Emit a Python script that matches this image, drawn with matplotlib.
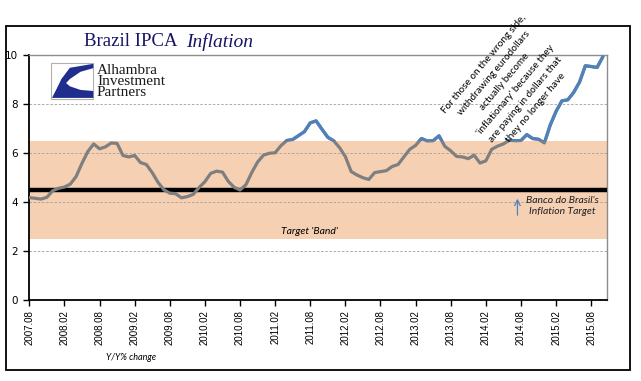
import matplotlib
matplotlib.use("Agg")
import matplotlib.pyplot as plt
from matplotlib.patches import Rectangle, Polygon
import numpy as np

# 12-month IPCA, 2007.08 .. 2015.10
ipca = [4.18, 4.15, 4.12, 4.19, 4.46,
        4.56, 4.61, 4.73, 5.04, 5.58, 6.06, 6.37, 6.17, 6.25, 6.41, 6.39, 5.90,
        5.84, 5.90, 5.61, 5.53, 5.20, 4.80, 4.50, 4.36, 4.34, 4.17, 4.22, 4.31,
        4.59, 4.83, 5.17, 5.26, 5.22, 4.84, 4.60, 4.49, 4.70, 5.20, 5.63, 5.91,
        5.99, 6.01, 6.30, 6.51, 6.55, 6.71, 6.87, 7.23, 7.31, 6.97, 6.64, 6.50,
        6.22, 5.85, 5.24, 5.10, 4.99, 4.92, 5.20, 5.24, 5.28, 5.45, 5.53, 5.84,
        6.15, 6.31, 6.59, 6.49, 6.50, 6.70, 6.27, 6.09, 5.86, 5.84, 5.77, 5.91,
        5.59, 5.68, 6.15, 6.28, 6.37, 6.52, 6.50, 6.51, 6.75, 6.59, 6.56, 6.41,
        7.14, 7.70, 8.13, 8.17, 8.47, 8.89, 9.56, 9.53, 9.49, 9.93]
tick_labels = ["2007.08", "2008.02", "2008.08", "2009.02", "2009.08", "2010.02",
               "2010.08", "2011.02", "2011.08", "2012.02", "2012.08", "2013.02",
               "2013.08", "2014.02", "2014.08", "2015.02", "2015.08"]
target = 4.5
band_low, band_high = 2.5, 6.5

W, H = 641, 381
def fx(x):
    return x / W
def fy(y):
    return 1 - y / H

fig = plt.figure(figsize=(6.41, 3.81), dpi=100)
fig.patches.append(Rectangle((fx(6), fy(370)), fx(624), 344 / H, transform=fig.transFigure,
                             fill=False, edgecolor="black", linewidth=1.3))

ax = fig.add_axes([fx(29.3), fy(300), fx(607 - 29.3), (300 - 55) / H])
months = np.arange(len(ipca))

ax.axhspan(band_low, band_high, color="#F6D0B3", zorder=0, linewidth=0)
for v in [2, 4, 6, 8]:
    ax.axhline(v, color="#A0A0A0", linestyle=(0, (3, 2)), linewidth=0.6, zorder=1)
ax.axhline(target, color="black", linewidth=3.2, zorder=3)

ax.plot(months, ipca, color="#7F7F7F", linewidth=2.3, zorder=4, solid_capstyle="round")
blue, = ax.plot(months, ipca, color="#4F81BD", linewidth=2.3, zorder=5, solid_capstyle="round")
clip = Rectangle((0, band_high), 200, 10, transform=ax.transData)
blue.set_clip_path(clip)

ax.set_xlim(0, 98.7)
ax.set_ylim(0, 10)
ax.set_yticks([0, 2, 4, 6, 8, 10])
ax.set_xticks(np.arange(0, 97, 6))
ax.set_xticklabels(tick_labels, rotation=90, fontsize=7, family="Liberation Sans")
ax.tick_params(axis="y", labelsize=7.5, length=4, width=1, pad=4)
ax.tick_params(axis="x", length=4, width=1, pad=3)
for s in ["top", "right"]:
    ax.spines[s].set_color("#8C8C8C")
    ax.spines[s].set_linewidth(1)
for s in ["left", "bottom"]:
    ax.spines[s].set_linewidth(1.3)

# annotations
ax.text(47.8, 2.78, "Target 'Band'", style="italic", fontsize=7.5, family="Lato",
        ha="center", va="center", zorder=6)
ax.text(91.0, 3.84, "Banco do Brasil's\nInflation Target", style="italic", fontsize=7.5,
        family="Lato", ha="center", va="center", linespacing=1.35, color="#202020", zorder=6)
ax.annotate("", xy=(83.4, 4.25), xytext=(83.4, 3.35),
            arrowprops=dict(arrowstyle="->", color="#4F81BD", lw=0.9), zorder=6)
ax.text(82.1, 8.73, "For those on the wrong side,\nwithdrawing eurodollars\nactually become\n"
        "'inflationary' because they\nare paying in dollars that\nthey no longer have",
        rotation=50, rotation_mode="anchor", fontsize=7.2, family="Lato", ha="center",
        va="center", multialignment="center", linespacing=1.65, clip_on=False, zorder=6)

# title
fig.text(fx(84), fy(42), "Brazil IPCA", family="Liberation Serif", fontsize=13.5,
         color="#141464", va="center", ha="left")
fig.text(fx(186), fy(42), "Inflation", family="Liberation Serif", style="italic",
         fontsize=14, color="#141464", va="center", ha="left")

# logo
lx0, ly0, lx1, ly1 = 50.7, 62.7, 93.3, 99
fig.patches.append(Rectangle((fx(lx0), fy(ly1)), fx(lx1 - lx0), (ly1 - ly0) / H,
                             transform=fig.transFigure, facecolor="white",
                             edgecolor="#B0B0B0", linewidth=0.8))
def logo_pt(u, v):
    return (fx(lx0 + u * (lx1 - lx0)), fy(ly1 - v * (ly1 - ly0)))
upper = [(1.0, 0.97), (0.45, 0.86), (0.25, 0.55), (0.05, 0.05), (0.25, 0.3),
         (0.45, 0.55), (0.7, 0.75), (1.0, 0.85)]
lower = [(0.03, 0.03), (1.0, 0.03), (1.0, 0.22), (0.7, 0.25), (0.45, 0.35),
         (0.3, 0.5), (0.2, 0.4)]
for shape in [upper, lower]:
    fig.patches.append(Polygon([logo_pt(u, v) for u, v in shape], closed=True,
                               transform=fig.transFigure, facecolor="#1F2D8F",
                               edgecolor="none"))
for i, word in enumerate(["Alhambra", "Investment", "Partners"]):
    fig.text(fx(97), fy(70 + 11.5 * i), word, family="Liberation Serif", fontsize=11,
             va="center", ha="left", color="#1A1A1A")

fig.text(fx(131), fy(357), "Y/Y% change", style="italic", fontsize=6.5, family="Lato",
         ha="center", va="center")

fig.savefig("out.png", dpi=100)
